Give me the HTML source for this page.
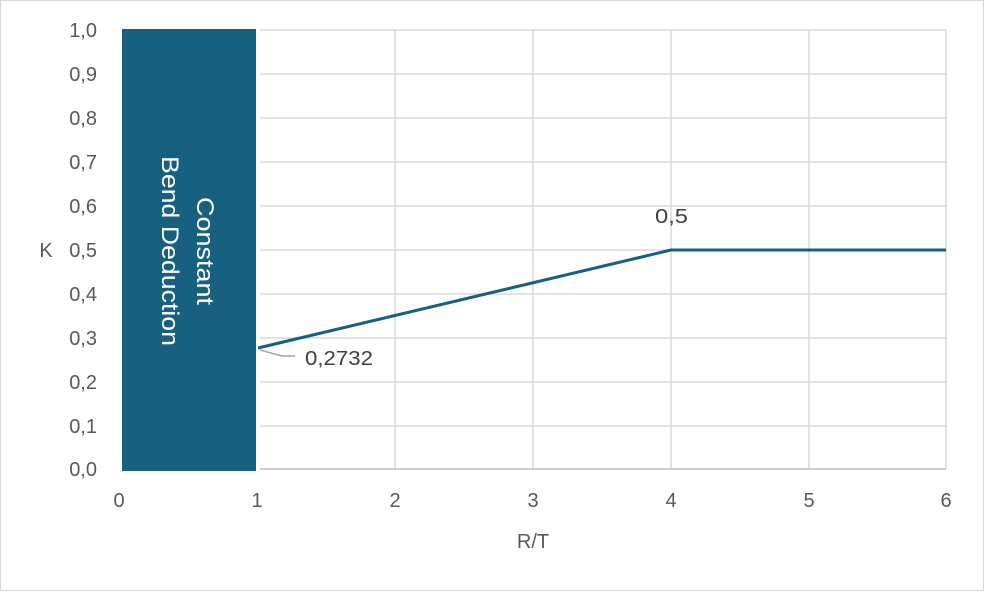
<!DOCTYPE html><html><head><style>body{margin:0;background:#fff}</style></head><body>
<svg width="984" height="591" xmlns="http://www.w3.org/2000/svg" font-family="Liberation Sans, sans-serif">
<rect x="0.5" y="0.5" width="983" height="590" fill="#fff" stroke="#d9d9d9"/>
<g stroke="#d9d9d9" stroke-width="1.5">
<line x1="260" x2="946" y1="30" y2="30"/><line x1="260" x2="946" y1="74" y2="74"/><line x1="260" x2="946" y1="118" y2="118"/><line x1="260" x2="946" y1="162" y2="162"/><line x1="260" x2="946" y1="206" y2="206"/><line x1="260" x2="946" y1="250" y2="250"/><line x1="260" x2="946" y1="294" y2="294"/><line x1="260" x2="946" y1="338" y2="338"/><line x1="260" x2="946" y1="382" y2="382"/><line x1="260" x2="946" y1="426" y2="426"/>
<line x1="395" x2="395" y1="30" y2="469"/><line x1="533" x2="533" y1="30" y2="469"/><line x1="671" x2="671" y1="30" y2="469"/><line x1="809" x2="809" y1="30" y2="469"/><line x1="946" x2="946" y1="30" y2="469"/>
</g>
<line x1="260" x2="946" y1="469" y2="469" stroke="#bfbfbf" stroke-width="1.5"/>
<rect x="122" y="29" width="134" height="442" fill="#17607f"/>
<text transform="translate(197,251) rotate(90)" fill="#fff" font-size="24" text-anchor="middle" textLength="108" lengthAdjust="spacingAndGlyphs">Constant</text>
<text transform="translate(162,251) rotate(90)" fill="#fff" font-size="24" text-anchor="middle" textLength="190" lengthAdjust="spacingAndGlyphs">Bend Deduction</text>
<polyline points="258,348 671,250 946,250" fill="none" stroke="#17607f" stroke-width="3"/>
<polyline points="260,350 282,356 295,356" fill="none" stroke="#a6a6a6" stroke-width="1.5"/>
<text x="305" y="365" font-size="20" fill="#404040" textLength="68" lengthAdjust="spacingAndGlyphs">0,2732</text>
<text x="655" y="223" font-size="20" fill="#404040" textLength="33" lengthAdjust="spacingAndGlyphs">0,5</text>
<g font-size="20" fill="#595959" text-anchor="end">
<text x="97" y="37">1,0</text><text x="97" y="81">0,9</text><text x="97" y="125">0,8</text><text x="97" y="169">0,7</text><text x="97" y="213">0,6</text><text x="97" y="257">0,5</text><text x="97" y="301">0,4</text><text x="97" y="345">0,3</text><text x="97" y="389">0,2</text><text x="97" y="433">0,1</text><text x="97" y="476">0,0</text>
</g>
<g font-size="20" fill="#595959" text-anchor="middle">
<text x="119" y="507">0</text><text x="257" y="507">1</text><text x="395" y="507">2</text><text x="533" y="507">3</text><text x="671" y="507">4</text><text x="809" y="507">5</text><text x="946" y="507">6</text>
<text x="533" y="548">R/T</text>
<text x="46" y="257">K</text>
</g>
</svg></body></html>
